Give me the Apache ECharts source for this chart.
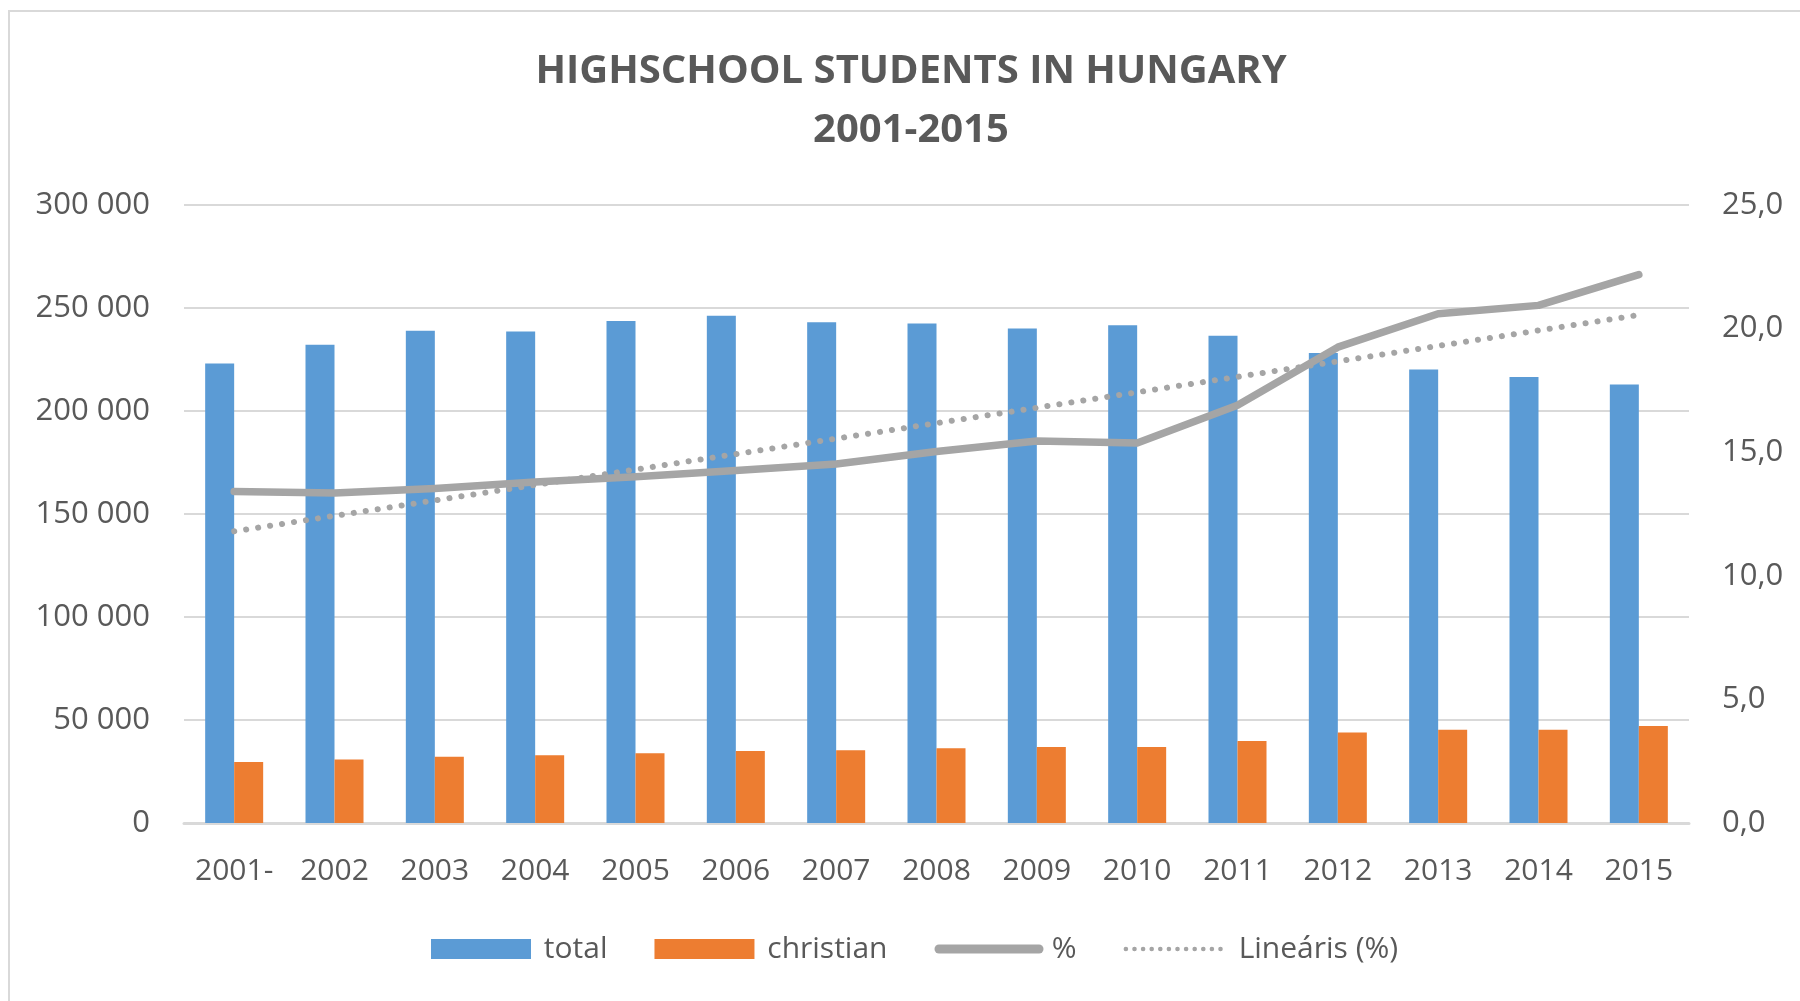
<!DOCTYPE html>
<html>
<head>
<meta charset="utf-8">
<script src="https://cdn.jsdelivr.net/npm/echarts@6/dist/echarts.min.js"></script>
<style>
  html, body { margin: 0; padding: 0; background: #fff; }
  #main { width: 1800px; height: 1001px; }
</style>
</head>
<body>
<div id="main"></div>
<script>
// data
const years = ["2001-", "2002", "2003", "2004", "2005", "2006", "2007", "2008", "2009", "2010", "2011", "2012", "2013", "2014", "2015"];
const total = [223000, 232200, 239000, 238600, 243700, 246200, 243100, 242500, 240000, 241600, 236500, 228100, 220200, 216500, 212900];
const christian = [29600, 30800, 32200, 32900, 33900, 34900, 35300, 36300, 36900, 36900, 39800, 43900, 45300, 45300, 47100];
const percent = [13.41, 13.35, 13.53, 13.79, 14.01, 14.26, 14.52, 15.03, 15.45, 15.37, 16.9, 19.25, 20.6, 20.94, 22.18];
// trendline ends (first and last year), straight line between them
const trendStart = 11.8;
const trendEnd = 20.55;

const trend = years.map((y, i) => i === 0 ? trendStart : (i === years.length - 1 ? trendEnd : null));

const textColor = "#595959";
const gridColor = "#d9d9d9";
const lineGray = "#a5a5a5";
const font = "Open Sans";

const chart = echarts.init(document.getElementById("main"));

chart.setOption({
  backgroundColor: "#fff",
  textStyle: { fontFamily: font },
  animation: false,
  title: {
    text: "HIGHSCHOOL STUDENTS IN HUNGARY\n2001-2015",
    left: 906,
    top: 37,
    textAlign: "center",
    textStyle: { fontFamily: font, fontSize: 40, fontWeight: "bold", color: textColor, lineHeight: 59 }
  },
  graphic: [{
    type: "rect",
    shape: { x: 9, y: 11, width: 3000, height: 3000 },
    style: { fill: "none", stroke: gridColor, lineWidth: 2 },
    silent: true
  }],
  legend: {
    left: 426,
    top: 929,
    itemWidth: 100,
    itemHeight: 20,
    itemGap: 47,
    formatter: name => " " + name,
    textStyle: { fontFamily: font, fontSize: 30, color: textColor },
    data: [
      { name: "total", icon: "rect" },
      { name: "christian", icon: "rect" },
      {
        name: "%",
        itemStyle: { color: "rgba(0,0,0,0)", borderWidth: 0 },
        lineStyle: { color: lineGray, width: 9, cap: "round" }
      },
      {
        name: "Lineáris (%)",
        itemStyle: { color: "rgba(0,0,0,0)", borderWidth: 0 },
        lineStyle: { color: lineGray, width: 4.5, type: [0.1, 8.5], cap: "round" }
      }
    ]
  },
  grid: { left: 184, right: 111, top: 205, bottom: 178 },
  xAxis: {
    type: "category",
    data: years,
    axisLine: { lineStyle: { color: gridColor, width: 3 } },
    axisTick: { show: false },
    axisLabel: { fontFamily: font, fontSize: 30, color: textColor, margin: 33, interval: 0 }
  },
  yAxis: [{
    type: "value",
    min: 0, max: 300000, interval: 50000,
    axisLine: { show: false },
    axisTick: { show: false },
    splitLine: { lineStyle: { color: gridColor, width: 2 } },
    axisLabel: {
      fontFamily: font, fontSize: 31, color: textColor, margin: 34,
      formatter: v => String(v).replace(/\B(?=(\d{3})+(?!\d))/g, " ")
    }
  }, {
    type: "value",
    min: 0, max: 25, interval: 5,
    axisLine: { show: false },
    axisTick: { show: false },
    splitLine: { show: false },
    axisLabel: {
      fontFamily: font, fontSize: 31, color: textColor, margin: 33,
      formatter: v => v.toFixed(1).replace(".", ",")
    }
  }],
  series: [{
    name: "total",
    type: "bar",
    data: total,
    barWidth: 29,
    barGap: "0%",
    itemStyle: { color: "#5b9bd5" }
  }, {
    name: "christian",
    type: "bar",
    data: christian,
    barWidth: 29,
    itemStyle: { color: "#ed7d31" }
  }, {
    name: "%",
    type: "line",
    yAxisIndex: 1,
    data: percent,
    symbol: "none",
    z: 4,
    lineStyle: { color: lineGray, width: 7.5, cap: "round", join: "round" },
    itemStyle: { color: lineGray }
  }, {
    name: "Lineáris (%)",
    type: "line",
    yAxisIndex: 1,
    data: trend,
    connectNulls: true,
    symbol: "none",
    z: 3,
    lineStyle: { color: lineGray, width: 6, type: [0.1, 12], cap: "round" },
    itemStyle: { color: lineGray }
  }]
});
</script>
</body>
</html>
